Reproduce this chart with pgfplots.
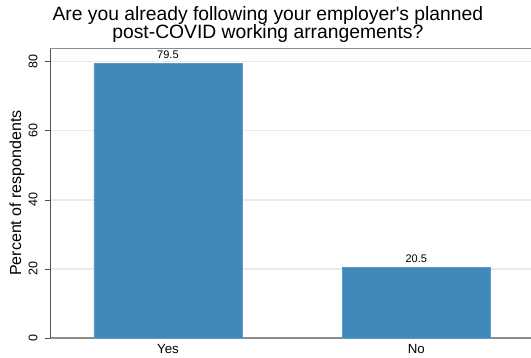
\documentclass[border=0pt]{standalone}
\usepackage{fontspec}
\setmainfont{Liberation Sans}
\usepackage{pgfplots}
\pgfplotsset{compat=1.18}
\definecolor{barblue}{RGB}{65,137,185}
\definecolor{baredge}{RGB}{90,155,200}
\definecolor{gridc}{RGB}{234,234,234}
\definecolor{axisdark}{RGB}{80,80,80}
\definecolor{axisgray}{RGB}{140,140,140}
\begin{document}
\begin{tikzpicture}
\path[use as bounding box] (-50pt,-19pt) rectangle (481pt,338pt);
\begin{axis}[
  at={(0pt,0pt)}, anchor=south west, scale only axis,
  width=481pt, height=290pt,
  xmin=-0.475, xmax=1.462, ymin=0, ymax=84,
  axis x line*=bottom, axis y line*=left,
  x axis line style={draw=axisgray, line width=1.2pt, -},
  y axis line style={draw=axisdark, line width=0.8pt, -},
  ybar,
  xtick={0,1}, xticklabels={Yes,No},
  major x tick style={draw=none},
  xticklabel style={font=\fontsize{13.3}{13.3}\selectfont, anchor=north, inner sep=0pt, yshift=-1.5pt},
  ytick={0,20,40,60,80},
  tick align=outside, major tick length=5pt,
  major y tick style={draw=axisdark, line width=0.8pt},
  /pgf/number format/assume math mode=true,
  yticklabel style={rotate=90, anchor=south, font=\fontsize{12.5}{12.5}\selectfont, yshift=4pt},
  ymajorgrids, grid style={draw=gridc, line width=1.2pt},
  clip=false,
]
\addplot[fill=barblue, draw=baredge, line width=0.5pt, bar width=0.596,
  nodes near coords,
  every node near coord/.append style={font=\fontsize{11}{11}\selectfont, text=black, anchor=south, yshift=1.3pt},
  nodes near coords={\pgfmathprintnumber[fixed, precision=1, fixed zerofill]{\pgfplotspointmeta}}]
  coordinates {(0,79.5) (1,20.5)};
\draw[axisgray, line width=1pt] (rel axis cs:0,1) -- (rel axis cs:1,1);
\node[rotate=90, anchor=center, font=\fontsize{16}{16}\selectfont] at (rel axis cs:-0.0686,0.5) {Percent of respondents};
\node[anchor=base, font=\fontsize{19.3}{19.3}\selectfont] at (rel axis cs:0.453,1) [yshift=27.3pt] {Are you already following your employer\textquotesingle s planned};
\node[anchor=base, font=\fontsize{19.3}{19.3}\selectfont] at (rel axis cs:0.453,1) [yshift=9.7pt] {post-COVID working arrangements?};
\end{axis}
\end{tikzpicture}
\end{document}
